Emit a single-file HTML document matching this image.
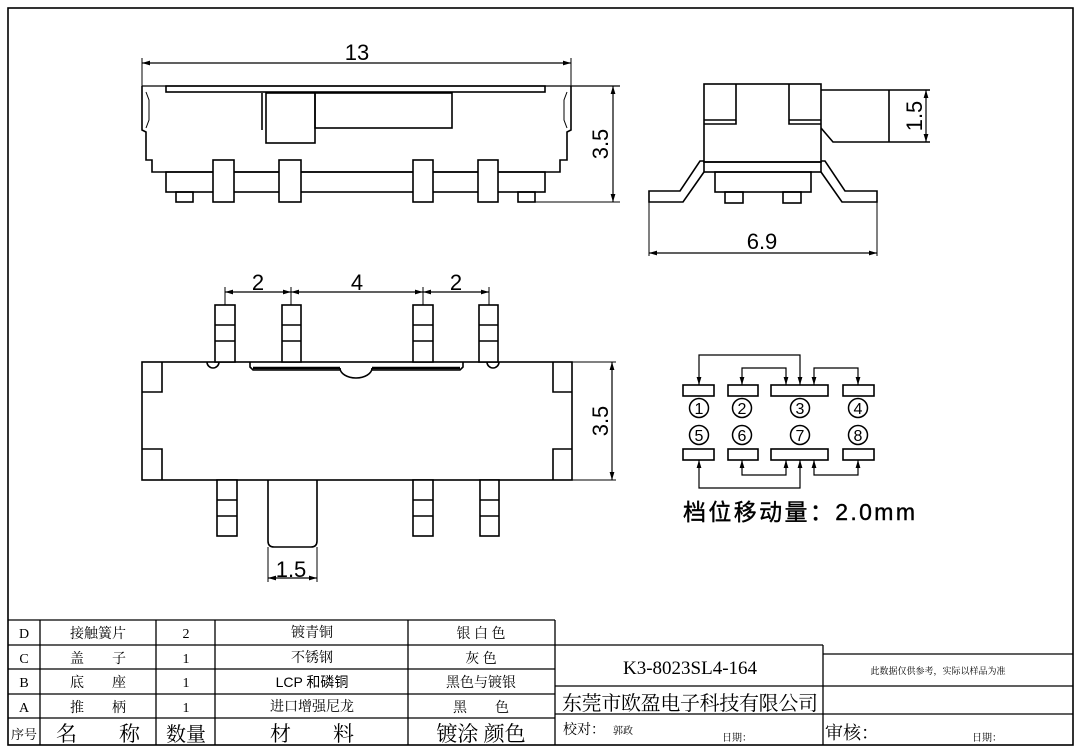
<!DOCTYPE html>
<html><head><meta charset="utf-8"><style>
html,body{margin:0;padding:0;background:#fff;}
svg{display:block}
.s{font-family:"Liberation Serif","Noto Serif CJK SC",serif}
.c{font-family:"Liberation Sans","Noto Sans CJK SC",sans-serif}
</style></head><body>
<svg width="1080" height="750" viewBox="0 0 1080 750" xmlns="http://www.w3.org/2000/svg">
<defs>
<marker id="a" viewBox="0 0 10 10" refX="10" refY="5" markerWidth="8" markerHeight="8" orient="auto-start-reverse" markerUnits="userSpaceOnUse"><path d="M0,2 L10,5 L0,8 Z" fill="#000"/></marker>
</defs>
<g fill="none" stroke="#000" stroke-width="1.6">
<rect x="8" y="8" width="1065" height="737"/>
<!-- TOP VIEW -->
<line x1="142" y1="63" x2="571" y2="63" stroke-width="1.2" marker-start="url(#a)" marker-end="url(#a)"/>
<line x1="142" y1="58" x2="142" y2="86" stroke-width="1"/>
<line x1="571" y1="58" x2="571" y2="86" stroke-width="1"/>
<line x1="142" y1="86" x2="620" y2="86" stroke-width="1.3"/>
<rect x="166" y="86" width="379" height="6"/>
<rect x="266" y="93" width="49" height="50"/>
<rect x="315" y="93" width="137" height="35"/>
<line x1="262" y1="93" x2="262" y2="130"/>
<path d="M142,86 V130 L146,132 V160 L152,160 V172 H560 V160 L567,160 V132 L571,130 V86"/>
<path d="M146,92 L149,100 V120 L146,128" stroke-width="1"/>
<path d="M567,92 L564,100 V120 L567,128" stroke-width="1"/>
<rect x="166" y="172" width="379" height="20"/>
<rect x="176" y="192" width="17" height="10"/>
<rect x="518" y="192" width="17" height="10"/>
<rect x="213" y="160" width="21" height="42" fill="#fff"/>
<rect x="279" y="160" width="22" height="42" fill="#fff"/>
<rect x="413" y="160" width="20" height="42" fill="#fff"/>
<rect x="478" y="160" width="20" height="42" fill="#fff"/>
<line x1="535" y1="202" x2="620" y2="202" stroke-width="1"/>
<line x1="613" y1="86" x2="613" y2="202" stroke-width="1.2" marker-start="url(#a)" marker-end="url(#a)"/>
<!-- SIDE VIEW -->
<rect x="704" y="84" width="117" height="78"/>
<path d="M704,120 H736 V84 M704,124 H736 V120"/>
<path d="M821,120 H789 V84 M821,124 H789 V120"/>
<path d="M821,90 H930 M821,128 L833,142 H930"/>
<line x1="889" y1="90" x2="889" y2="142"/>
<line x1="926" y1="90" x2="926" y2="142" stroke-width="1.2" marker-start="url(#a)" marker-end="url(#a)"/>
<rect x="704" y="162" width="117" height="10"/>
<rect x="715" y="172" width="96" height="20"/>
<rect x="725" y="192" width="18" height="11"/>
<rect x="783" y="192" width="18" height="11"/>
<path d="M704,161 H700 L680,191 H649 V202 H683 L704,172"/>
<path d="M821,161 H825 L845,191 H877 V202 H842 L821,172"/>
<line x1="649" y1="202" x2="649" y2="256" stroke-width="1"/>
<line x1="877" y1="202" x2="877" y2="256" stroke-width="1"/>
<line x1="649" y1="253" x2="877" y2="253" stroke-width="1.2" marker-start="url(#a)" marker-end="url(#a)"/>
<!-- FRONT VIEW -->
<rect x="142" y="362" width="430" height="118"/>
<path d="M142,392 H162 V362 M142,449 H162 V480 M572,392 H553 V362 M572,449 H553 V480"/>
<path d="M572,362 H616 M572,480 H616" stroke-width="1"/>
<line x1="612" y1="362" x2="612" y2="480" stroke-width="1.2" marker-start="url(#a)" marker-end="url(#a)"/>
<g fill="#fff">
<rect x="215" y="305" width="20" height="57"/><rect x="282" y="305" width="19" height="57"/>
<rect x="413" y="305" width="20" height="57"/><rect x="479" y="305" width="19" height="57"/>
<rect x="217" y="480" width="20" height="56"/><rect x="413" y="480" width="20" height="56"/>
<rect x="480" y="480" width="19" height="56"/>
</g>
<path d="M215,325 H235 M215,341 H235 M282,325 H301 M282,341 H301 M413,325 H433 M413,341 H433 M479,325 H498 M479,341 H498"/>
<path d="M217,500 H237 M217,516 H237 M413,500 H433 M413,516 H433 M480,500 H499 M480,516 H499"/>
<path d="M207,362 A6,6 0 0 0 219,362 M487,362 A6,6 0 0 0 499,362"/>
<path d="M250,362 V367 L253,370 H340 M372,370 H460 L463,367 V362" />
<path d="M253,368 H340 M372,368 H460" stroke-width="2.5"/>
<path d="M340,368 A16,10 0 0 0 372,368" />
<path d="M268,480 V541 Q268,547 274,547 H311 Q317,547 317,541 V480"/>
<path d="M268,547 V582 M317,547 V582" stroke-width="1"/>
<line x1="268" y1="578" x2="317" y2="578" stroke-width="1.2" marker-start="url(#a)" marker-end="url(#a)"/>
<path d="M225,287 V305 M291,287 V305 M423,287 V305 M489,287 V305" stroke-width="1"/>
<line x1="225" y1="292" x2="291" y2="292" stroke-width="1.2" marker-start="url(#a)" marker-end="url(#a)"/>
<line x1="291" y1="292" x2="423" y2="292" stroke-width="1.2" marker-start="url(#a)" marker-end="url(#a)"/>
<line x1="423" y1="292" x2="489" y2="292" stroke-width="1.2" marker-start="url(#a)" marker-end="url(#a)"/>
<!-- SCHEMATIC -->
<rect x="683" y="385" width="31" height="11"/><rect x="728" y="385" width="30" height="11"/>
<rect x="771" y="385" width="57" height="11"/><rect x="843" y="385" width="31" height="11"/>
<rect x="683" y="449" width="31" height="11"/><rect x="728" y="449" width="30" height="11"/>
<rect x="771" y="449" width="57" height="11"/><rect x="843" y="449" width="31" height="11"/>
<g stroke-width="1.5">
<circle cx="699" cy="408" r="9.5"/><circle cx="742" cy="408" r="9.5"/><circle cx="800" cy="408" r="9.5"/><circle cx="858" cy="408" r="9.5"/>
<circle cx="699" cy="435" r="9.5"/><circle cx="742" cy="435" r="9.5"/><circle cx="800" cy="435" r="9.5"/><circle cx="858" cy="435" r="9.5"/>
</g>
<g stroke-width="1.2">
<path d="M699,385 V355 H800 V385" marker-start="url(#a)" marker-end="url(#a)"/>
<path d="M742,385 V368 H786 V385" marker-start="url(#a)" marker-end="url(#a)"/>
<path d="M814,385 V368 H858 V385" marker-start="url(#a)" marker-end="url(#a)"/>
<path d="M699,460 V488 H800 V460" marker-start="url(#a)" marker-end="url(#a)"/>
<path d="M742,460 V475 H786 V460" marker-start="url(#a)" marker-end="url(#a)"/>
<path d="M814,460 V475 H858 V460" marker-start="url(#a)" marker-end="url(#a)"/>
</g>
<!-- TABLE -->
<g stroke-width="1.3">
<path d="M8,620 H555 M8,645 H555 M8,669 H555 M8,694 H555 M8,718 H555"/>
<path d="M40,620 V745 M156,620 V745 M215,620 V745 M408,620 V745 M555,620 V745"/>
<path d="M555,645 H823 M823,645 V745 M823,654 H1073 M555,686 H1073 M555,714 H1073"/>
</g>
</g>
<g fill="#000" font-size="22" class="c" text-anchor="middle">
<text x="357" y="60">13</text>
<text x="762" y="249">6.9</text>
<text x="258" y="290">2</text><text x="357" y="290">4</text><text x="456" y="290">2</text>
<text x="291" y="577">1.5</text>
<text transform="translate(608,144) rotate(-90)">3.5</text>
<text transform="translate(608,421) rotate(-90)">3.5</text>
<text transform="translate(922,116) rotate(-90)">1.5</text>
</g>
<g fill="#000" font-size="16" class="c" text-anchor="middle">
<text x="699" y="414">1</text><text x="742" y="414">2</text><text x="800" y="414">3</text><text x="858" y="414">4</text>
<text x="699" y="441">5</text><text x="742" y="441">6</text><text x="800" y="441">7</text><text x="858" y="441">8</text>
</g>
<text x="683" y="520" font-size="23" class="c" fill="#000" stroke="#000" stroke-width="0.4" textLength="232" lengthAdjust="spacing">档位移动量：2.0mm</text>
<g fill="#000" class="s" font-size="14" text-anchor="middle">
<text x="24" y="638">D</text><text x="98" y="638">接触簧片</text><text x="186" y="638">2</text><text x="312" y="637">镀青铜</text><text x="481" y="638">银 白 色</text>
<text x="24" y="663">C</text><text x="98" y="663">盖　　子</text><text x="186" y="663">1</text><text x="312" y="662">不锈钢</text><text x="481" y="663">灰 色</text>
<text x="24" y="687">B</text><text x="98" y="687">底　　座</text><text x="186" y="687">1</text><text x="312" y="687" class="c">LCP 和磷铜</text><text x="481" y="687">黑色与镀银</text>
<text x="24" y="712">A</text><text x="98" y="712">推　　柄</text><text x="186" y="712">1</text><text x="312" y="711">进口增强尼龙</text><text x="481" y="712">黑　　色</text>
<text x="24" y="739" font-size="13">序号</text>
<text x="98" y="741" font-size="21">名　　称</text>
<text x="186" y="741" font-size="20">数量</text>
<text x="312" y="741" font-size="21">材　　料</text>
<text x="481" y="741" font-size="21">镀涂 颜色</text>
<text x="690" y="674" font-size="19">K3-8023SL4-164</text>
<text x="938" y="674" font-size="9">此数据仅供参考，实际以样品为准</text>
</g>
<g fill="#000" class="s">
<text x="562" y="710" font-size="20" textLength="256" lengthAdjust="spacing">东莞市欧盈电子科技有限公司</text>
<text x="563" y="734" font-size="14">校对：</text><text x="613" y="734" font-size="10">郭政</text>
<text x="722" y="741" font-size="10">日期：</text>
<text x="825" y="739" font-size="18">审核：</text>
<text x="972" y="741" font-size="10">日期：</text>
</g>
</svg>
</body></html>
